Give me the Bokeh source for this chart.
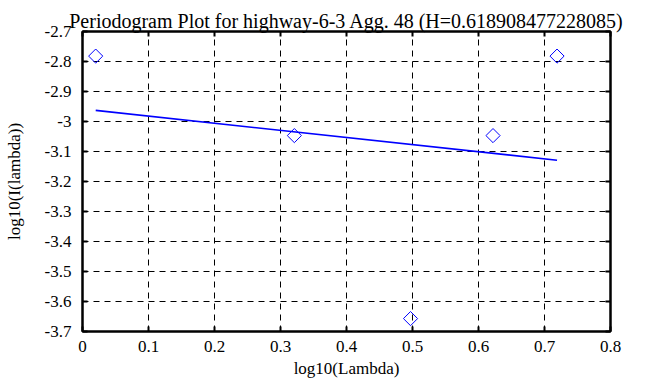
import math
from bokeh.plotting import figure
from bokeh.models import FixedTicker, CustomJSTickFormatter, LinearAxis, Range1d
from bokeh.embed import file_html
from bokeh.resources import INLINE

# data
log_lambda = [0.020, 0.321, 0.497, 0.622, 0.719]
log_I = [-2.782, -3.047, -3.657, -3.047, -2.782]
fit_x = [0.020, 0.719]
fit_y = [-2.963, -3.129]
x_ticks = [0.0, 0.1, 0.2, 0.3, 0.4, 0.5, 0.6, 0.7, 0.8]
y_ticks = [-3.7, -3.6, -3.5, -3.4, -3.3, -3.2, -3.1, -3.0, -2.9, -2.8, -2.7]
title_text = "Periodogram Plot for highway-6-3 Agg. 48 (H=0.618908477228085)"

FONT = "Liberation Serif"

p = figure(width=650, height=384, output_backend="svg", toolbar_location=None,
           x_range=Range1d(0, 0.8), y_range=Range1d(-3.7, -2.7),
           min_border_left=82, min_border_right=40, min_border_top=31, min_border_bottom=53)

p.title.text = title_text
p.title.align = "center"
p.title.text_font = FONT
p.title.text_font_size = "20px"
p.title.text_font_style = "normal"
p.title.text_color = "black"
p.title.standoff = 0

fmt = CustomJSTickFormatter(code="return String(Number(tick.toFixed(1)));")

for ax, ticks in ((p.xaxis[0], x_ticks), (p.yaxis[0], y_ticks)):
    ax.ticker = FixedTicker(ticks=ticks)
    ax.formatter = fmt
    ax.major_label_text_font = FONT
    ax.major_label_text_font_size = "17px"
    ax.major_label_text_color = "black"
    ax.axis_label_text_font = FONT
    ax.axis_label_text_font_size = "17px"
    ax.axis_label_text_font_style = "normal"
    ax.axis_label_text_color = "black"
    ax.axis_line_width = 2
    ax.axis_line_color = "black"
    ax.major_tick_in = 5
    ax.major_tick_out = 0
    ax.major_tick_line_width = 2
    ax.minor_tick_line_color = None

p.xaxis.axis_label = "log10(Lambda)"
p.yaxis.axis_label = "log10(I(lambda))"
p.xaxis.major_label_standoff = 9
p.yaxis.major_label_standoff = 11
p.xaxis.axis_label_standoff = 4
p.yaxis.axis_label_standoff = 18

for loc, ticks in (("right", y_ticks), ("above", x_ticks)):
    ax = LinearAxis(ticker=FixedTicker(ticks=ticks))
    ax.major_label_text_font_size = "0px"
    ax.major_label_text_color = None
    ax.axis_line_width = 2
    ax.major_tick_in = 5
    ax.major_tick_out = 0
    ax.major_tick_line_width = 2
    ax.minor_tick_line_color = None
    ax.major_label_standoff = 0
    p.add_layout(ax, loc)

p.xgrid.ticker = FixedTicker(ticks=x_ticks)
p.ygrid.ticker = FixedTicker(ticks=y_ticks)
p.grid.grid_line_color = "black"
p.grid.grid_line_dash = "6 5"
p.grid.grid_line_width = 1
p.outline_line_color = "black"
p.outline_line_width = 2
p.background_fill_color = "white"
p.border_fill_color = "white"

p.line(fit_x, fit_y, line_color="blue", line_width=1.6)
p.scatter(log_lambda, log_I, marker="square", angle=math.pi / 4, size=10,
          fill_color=None, line_color="blue", line_width=1)

open("out.html", "w").write(file_html(p, INLINE))
